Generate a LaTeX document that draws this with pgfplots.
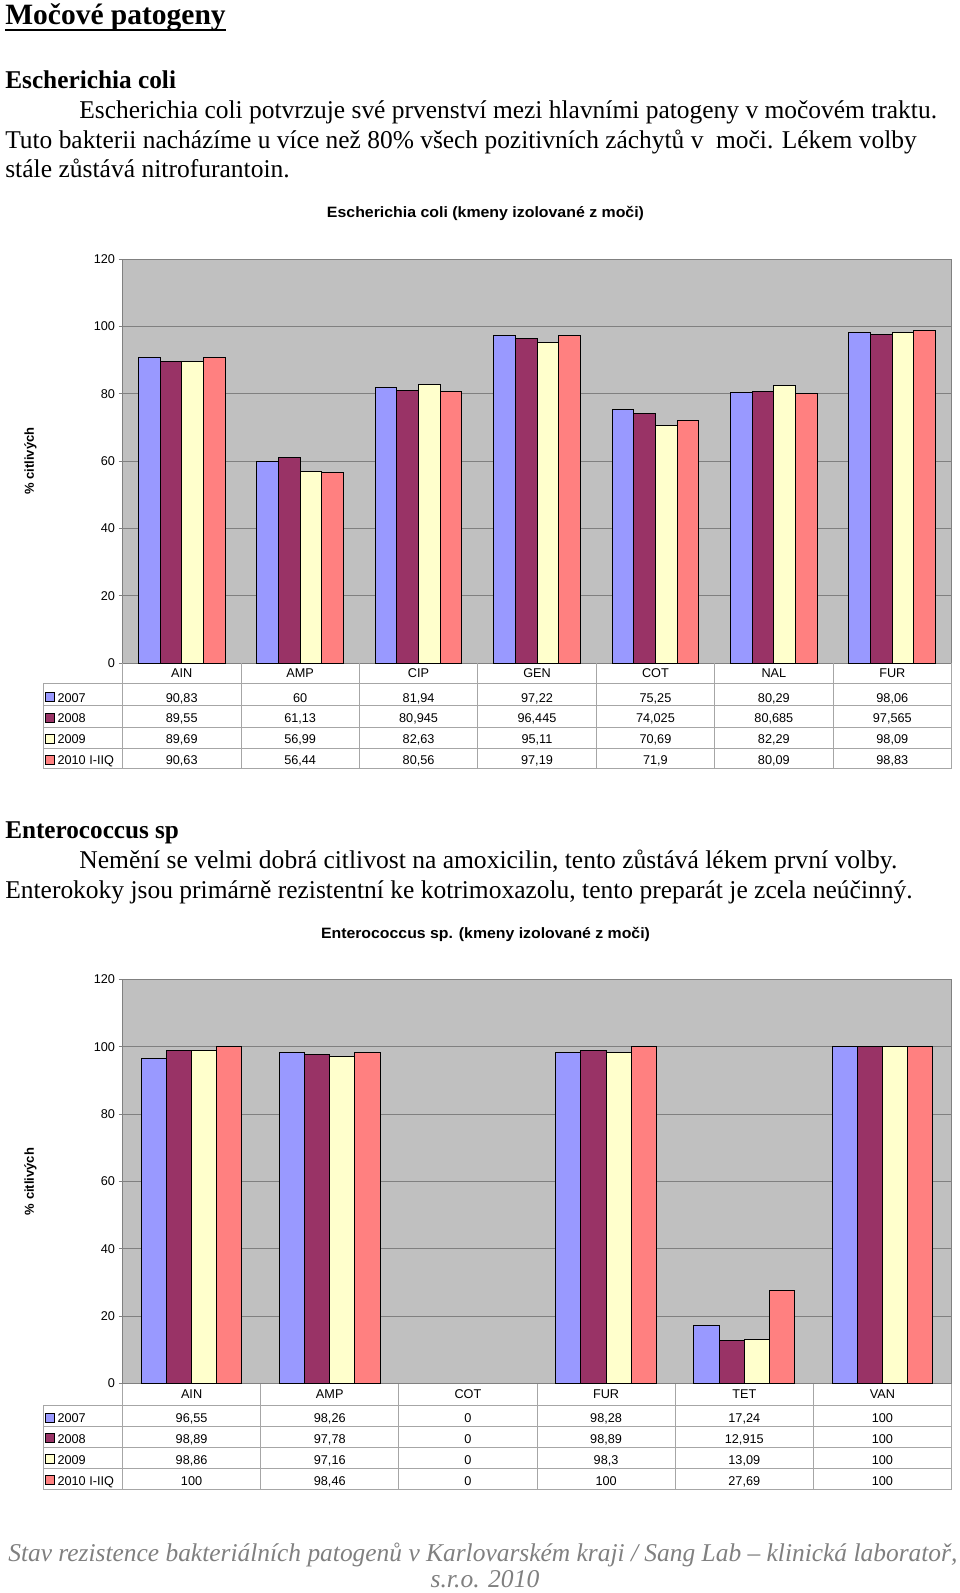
\documentclass[border=0pt]{standalone}
\usepackage{fontspec}
\setmainfont{Liberation Serif}
\setsansfont{Liberation Sans}
\usepackage{graphicx}
\usepackage{pgfplots}
\pgfplotsset{compat=1.18}

\definecolor{s1}{HTML}{9999FF}
\definecolor{s2}{HTML}{993366}
\definecolor{s3}{HTML}{FFFFCC}
\definecolor{s4}{HTML}{FF8080}
\definecolor{bggray}{HTML}{C0C0C0}
\definecolor{gridgray}{HTML}{808080}
\definecolor{tblgray}{HTML}{A6A6A6}
\definecolor{footgray}{HTML}{808080}

\newcommand{\txt}{\fontsize{25.6}{30}\selectfont}
\newcommand{\tf}{\sffamily\fontsize{12.7}{14}\selectfont}

% #1 plot left x, #2 column width, #3 baseline y, #4 list of values
\newcommand\rowvals[4]{%
  \foreach \v [count=\k from 0] in {#4}
    \node[font=\tf, inner sep=0, anchor=base] at ({#1pt+(\k+0.5)*#2pt},{-#3pt}) {\v};}
% legend key: #1 colour, #2 baseline, #3 label
\newcommand\keyrow[3]{%
  \filldraw[fill=#1, draw=black, line width=0.8pt] (45.5pt,{-#2pt+0.3pt}) rectangle (54.3pt,{-#2pt+9.3pt});
  \node[font=\tf, inner sep=0, anchor=base west] at (57.3pt,{-#2pt}) {#3};}

\pgfplotsset{
  chartstyle/.style={
    scale only axis, width=829pt, height=404pt,
    ymin=0, ymax=120, ytick={0,20,...,120}, xtick=\empty,
    ymajorgrids, grid style={draw=gridgray, line width=1pt},
    axis background/.style={fill=bggray},
    axis line style={draw=gridgray, line width=1pt},
    tick style={draw=gridgray, line width=1pt},
    major tick length=4pt, tick align=outside, ytick pos=left,
    yticklabel style={font=\tf, /pgf/number format/assume math mode=true},
    ybar=0pt,
    every axis plot/.append style={draw=black, line width=1pt},
  }
}

\begin{document}
\begin{tikzpicture}
\path[use as bounding box] (0pt,0pt) rectangle (960pt,-1593pt);

% ---------- page text ----------
\node[anchor=base west, inner sep=0] at (5.1pt,-24.5pt)
  {\resizebox{220.4pt}{\height}{\fontsize{29.5}{34}\selectfont\bfseries Močové patogeny}};
\draw[line width=2pt] (5.1pt,-30pt) -- (225.5pt,-30pt);

\node[anchor=base west, inner sep=0] at (5.1pt,-88.5pt)
  {\resizebox{170.7pt}{\height}{\txt\bfseries Escherichia coli}};
\node[anchor=base west, inner sep=0] at (79.2pt,-118.5pt)
  {\resizebox{857.6pt}{\height}{\txt Escherichia coli potvrzuje své prvenství mezi hlavními patogeny v močovém traktu.}};
\node[anchor=base west, inner sep=0] at (5.1pt,-148.5pt)
  {\resizebox{911.3pt}{\height}{\txt Tuto bakterii nacházíme u více než 80\% všech pozitivních záchytů v~ moči. Lékem volby}};
\node[anchor=base west, inner sep=0] at (5.1pt,-177.5pt)
  {\resizebox{284.5pt}{\height}{\txt stále zůstává nitrofurantoin.}};

\node[anchor=base west, inner sep=0] at (5.1pt,-838.5pt)
  {\resizebox{173.7pt}{\height}{\txt\bfseries Enterococcus sp}};
\node[anchor=base west, inner sep=0] at (79.2pt,-868pt)
  {\resizebox{817.9pt}{\height}{\txt Nemění se velmi dobrá citlivost na amoxicilin, tento zůstává lékem první volby.}};
\node[anchor=base west, inner sep=0] at (5.1pt,-898.5pt)
  {\resizebox{907.3pt}{\height}{\txt Enterokoky jsou primárně rezistentní ke kotrimoxazolu, tento preparát je zcela neúčinný.}};

\node[anchor=base west, inner sep=0, text=footgray] at (8.1pt,-1561pt)
  {\resizebox{949pt}{\height}{\txt\itshape Stav rezistence bakteriálních patogenů v Karlovarském kraji / Sang Lab – klinická laboratoř,}};
\node[anchor=base, inner sep=0, text=footgray] at (485pt,-1587.5pt)
  {\resizebox{108.7pt}{\height}{\txt\itshape s.r.o. 2010}};

% ---------- chart 1 ----------
\node[anchor=base, inner sep=0] at (485.5pt,-217.5pt)
  {\resizebox{317pt}{\height}{\sffamily\bfseries\fontsize{15}{17}\selectfont Escherichia coli (kmeny izolované z moči)}};
\node[rotate=90, inner sep=0, font=\sffamily\bfseries\fontsize{13}{15}\selectfont] at (30.5pt,-461pt) {\% citlivých};

\begin{axis}[chartstyle, at={(122.5pt,-663pt)}, anchor=south west,
  xmin=-0.5, xmax=6.5, bar width=21.65pt]
\addplot[fill=s1] coordinates {(0,90.83) (1,60) (2,81.94) (3,97.22) (4,75.25) (5,80.29) (6,98.06)};
\addplot[fill=s2] coordinates {(0,89.55) (1,61.13) (2,80.945) (3,96.445) (4,74.025) (5,80.685) (6,97.565)};
\addplot[fill=s3] coordinates {(0,89.69) (1,56.99) (2,82.63) (3,95.11) (4,70.69) (5,82.29) (6,98.09)};
\addplot[fill=s4] coordinates {(0,90.63) (1,56.44) (2,80.56) (3,97.19) (4,71.9) (5,80.09) (6,98.83)};
\end{axis}

% data table 1
\begin{scope}[tblgray, line width=0.8pt]
  \foreach \k in {0,...,7} \draw ({122.5pt+\k*118.43pt},-663pt) -- ({122.5pt+\k*118.43pt},-768.3pt);
  \foreach \yy in {683.3,705.7,727,748.3,768.3} \draw (43pt,{-\yy pt}) -- (951.5pt,{-\yy pt});
  \draw (43pt,-683.3pt) -- (43pt,-768.3pt);
\end{scope}
\rowvals{122.5}{118.43}{677.3}{AIN,AMP,CIP,GEN,COT,NAL,FUR}
\rowvals{122.5}{118.43}{702}{{90,83},{60},{81,94},{97,22},{75,25},{80,29},{98,06}}
\rowvals{122.5}{118.43}{722.8}{{89,55},{61,13},{80,945},{96,445},{74,025},{80,685},{97,565}}
\rowvals{122.5}{118.43}{743.8}{{89,69},{56,99},{82,63},{95,11},{70,69},{82,29},{98,09}}
\rowvals{122.5}{118.43}{764.5}{{90,63},{56,44},{80,56},{97,19},{71,9},{80,09},{98,83}}
\keyrow{s1}{702}{2007}
\keyrow{s2}{722.8}{2008}
\keyrow{s3}{743.8}{2009}
\keyrow{s4}{764.5}{2010 I-IIQ}

% ---------- chart 2 ----------
\node[anchor=base, inner sep=0] at (485.5pt,-938pt)
  {\resizebox{329pt}{\height}{\sffamily\bfseries\fontsize{15}{17}\selectfont Enterococcus sp. (kmeny izolované z moči)}};
\node[rotate=90, inner sep=0, font=\sffamily\bfseries\fontsize{13}{15}\selectfont] at (30.5pt,-1181.5pt) {\% citlivých};

\begin{axis}[chartstyle, at={(122.5pt,-1383.5pt)}, anchor=south west,
  xmin=-0.5, xmax=5.5, bar width=25.2pt]
\addplot[fill=s1] coordinates {(0,96.55) (1,98.26) (2,0) (3,98.28) (4,17.24) (5,100)};
\addplot[fill=s2] coordinates {(0,98.89) (1,97.78) (2,0) (3,98.89) (4,12.915) (5,100)};
\addplot[fill=s3] coordinates {(0,98.86) (1,97.16) (2,0) (3,98.3) (4,13.09) (5,100)};
\addplot[fill=s4] coordinates {(0,100) (1,98.46) (2,0) (3,100) (4,27.69) (5,100)};
% zero-height bars are invisible in the original: restore the axis line there
\draw[gridgray, line width=1.6pt] (axis cs:1.5,0) -- (axis cs:2.5,0);
\end{axis}

% data table 2
\begin{scope}[tblgray, line width=0.8pt]
  \foreach \k in {0,...,6} \draw ({122.5pt+\k*138.17pt},-1383.5pt) -- ({122.5pt+\k*138.17pt},-1489.3pt);
  \foreach \yy in {1405,1426.7,1447.3,1468.3,1489.3} \draw (43pt,{-\yy pt}) -- (951.5pt,{-\yy pt});
  \draw (43pt,-1405pt) -- (43pt,-1489.3pt);
\end{scope}
\rowvals{122.5}{138.17}{1398}{AIN,AMP,COT,FUR,TET,VAN}
\rowvals{122.5}{138.17}{1422.5}{{96,55},{98,26},{0},{98,28},{17,24},{100}}
\rowvals{122.5}{138.17}{1443}{{98,89},{97,78},{0},{98,89},{12,915},{100}}
\rowvals{122.5}{138.17}{1464}{{98,86},{97,16},{0},{98,3},{13,09},{100}}
\rowvals{122.5}{138.17}{1485}{{100},{98,46},{0},{100},{27,69},{100}}
\keyrow{s1}{1422.5}{2007}
\keyrow{s2}{1443}{2008}
\keyrow{s3}{1464}{2009}
\keyrow{s4}{1485}{2010 I-IIQ}
\end{tikzpicture}
\end{document}
